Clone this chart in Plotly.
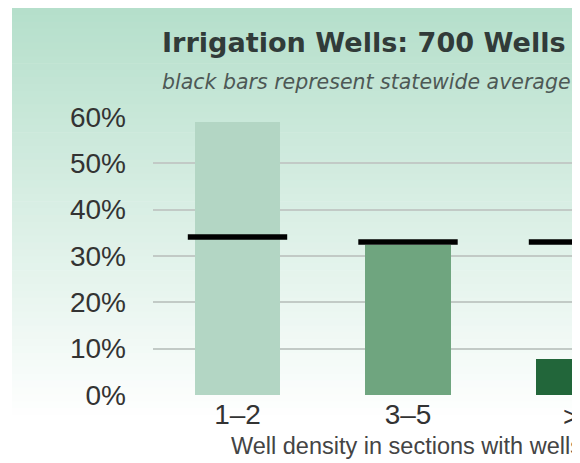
import plotly.graph_objects as go

# ---- data ----
categories = ["1–2", "3–5", ">5"]
pct_wells = [59.0, 32.4, 7.8]
statewide_avg = [34.1, 33.0, 33.0]
bar_colors = ["#b3d6c4", "#6fa57f", "#22663a"]
y_ticks = [0, 10, 20, 30, 40, 50, 60]
y_tick_labels = ["0%", "10%", "20%", "30%", "40%", "50%", "60%"]

OFF = 8                             # page body margin
W, H = 580 - OFF, 463 - OFF
L, R, T, B = 153 - OFF, 0, 117 - OFF, 463 - 395
plot_w = W - L - R
plot_h = H - T - B

cat_px = 170.5                      # pixel spacing between categories
x0 = -(237.5 - 153) / cat_px        # left edge in category units
x1 = x0 + plot_w / cat_px
y_range = [0, 60]

def px_x(px):                       # screen px -> paper
    return (px - OFF - L) / plot_w

def px_y(py):
    return (H - B - (py - OFF)) / plot_h

fig = go.Figure()
fig.add_trace(go.Bar(
    x=categories, y=pct_wells, width=0.504,
    marker=dict(color=bar_colors, line=dict(width=0)),
    showlegend=False, hoverinfo="skip",
))
fig.add_trace(go.Scatter(
    x=categories, y=statewide_avg, mode="markers",
    marker=dict(symbol="line-ew", size=71, line=dict(width=5.5, color="#000000")),
    showlegend=False, hoverinfo="skip",
))

# background gradient (mint at top fading to white)
top_c = (181, 223, 203)
bot_c = (255, 255, 255)
g_top, g_bot, g_left = 8, 422, 12
n = 60
shapes = []
for i in range(n):
    f = i / (n - 1)
    c = tuple(int(round(top_c[k] + (bot_c[k] - top_c[k]) * f)) for k in range(3))
    ya = g_top + (g_bot - g_top) * i / n
    yb = g_top + (g_bot - g_top) * (i + 1) / n + 0.6
    shapes.append(dict(type="rect", xref="paper", yref="paper",
                       x0=px_x(g_left), x1=px_x(600), y0=px_y(yb), y1=px_y(ya),
                       fillcolor="rgb(%d,%d,%d)" % c, line=dict(width=0), layer="below"))

tick_font = dict(family="Liberation Sans", size=28, color="#333333")
annotations = [
    dict(text="black bars represent statewide average", xref="paper", yref="paper",
         x=px_x(160), y=px_y(82), xanchor="left", yanchor="middle", showarrow=False,
         font=dict(family="DejaVu Sans", size=20.5, color="#4d5855", style="italic")),
    # last category label sits past the right edge of the page (cropped like the reference)
    dict(text=categories[2], xref="paper", yref="paper",
         x=(2 - x0) / (x1 - x0), y=px_y(416), xanchor="center", yanchor="middle",
         showarrow=False, font=tick_font),
    dict(text="Well density in sections with wells", xref="paper", yref="paper",
         x=px_x(229), y=px_y(446), xanchor="left", yanchor="middle",
         showarrow=False, font=dict(family="Liberation Sans", size=23.5, color="#444444")),
]

fig.update_layout(
    width=W, height=H,
    margin=dict(l=L, r=R, t=T, b=B, pad=0),
    paper_bgcolor="white", plot_bgcolor="rgba(0,0,0,0)",
    title=dict(text="<b>Irrigation Wells: 700 Wells</b>", x=(162 - OFF) / W, xanchor="left",
               y=1 - (43 - OFF) / H, yanchor="middle",
               font=dict(family="DejaVu Sans", size=27.1, color="#313b39")),
    shapes=shapes, annotations=annotations,
    bargap=0,
    xaxis=dict(type="category", range=[x0, x1], showgrid=False, zeroline=False,
               showline=False, ticks="", automargin=False,
               tickmode="array", tickvals=categories[:2], ticktext=categories[:2],
               tickfont=tick_font, fixedrange=True),
    yaxis=dict(range=y_range, tickmode="array", tickvals=y_ticks, ticktext=y_tick_labels,
               showgrid=True, gridcolor="#c2cac6", gridwidth=1.5, zeroline=False, showline=False,
               ticks="", ticklabelstandoff=26, automargin=False,
               tickfont=tick_font),
)

fig.write_html("out.html")
